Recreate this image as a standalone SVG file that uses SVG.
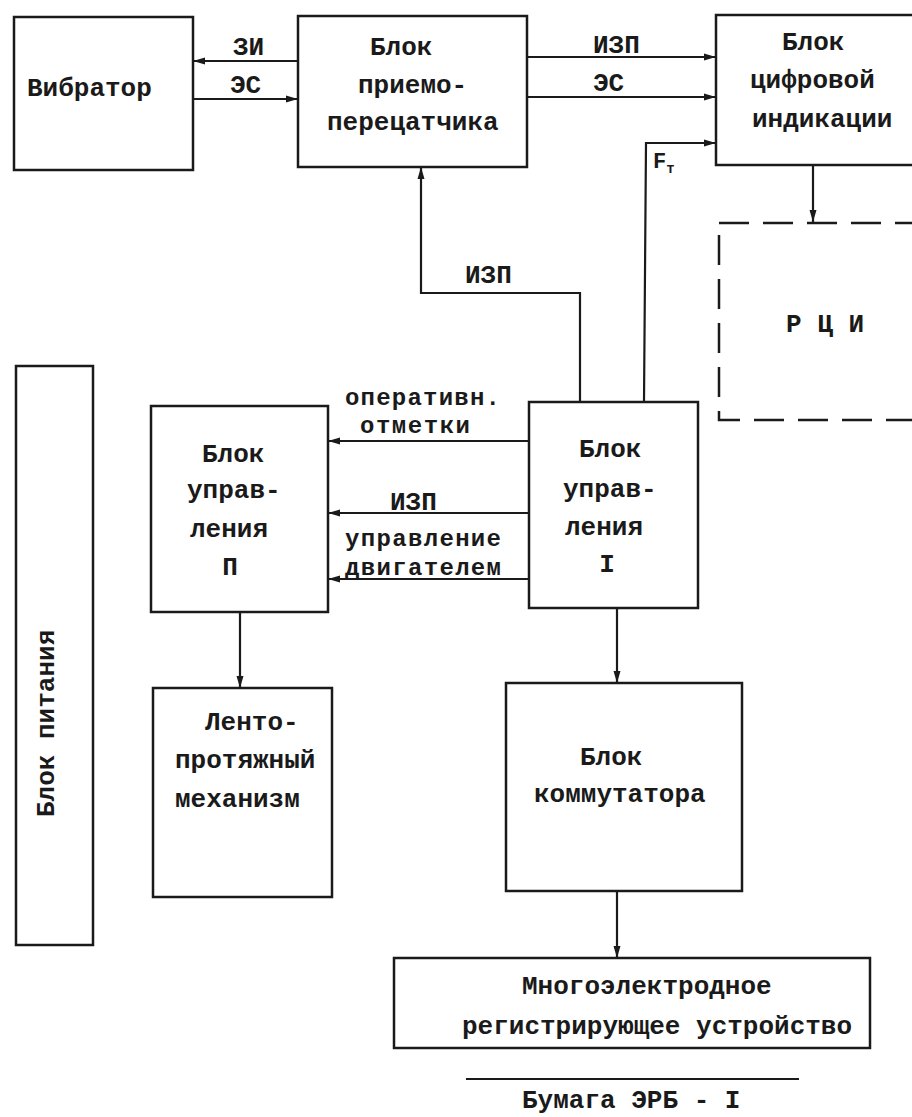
<svg xmlns="http://www.w3.org/2000/svg" width="912" height="1117" viewBox="0 0 912 1117">
<style>
.box{fill:none;stroke:#1a1a1a;stroke-width:2.5}
.dash{fill:none;stroke:#1a1a1a;stroke-width:2.5;stroke-dasharray:30 14}
.ln{fill:none;stroke:#1a1a1a;stroke-width:2.2;marker-end:url(#ah)}
.plain{fill:none;stroke:#1a1a1a;stroke-width:2.2}
text{font-family:"Liberation Mono","Courier New",monospace;font-size:26px;font-weight:bold;fill:#1a1a1a}
.sm{font-size:22px}
.lbl2{font-size:24px}
</style>
<defs>
<marker id="ah" viewBox="0 0 12 8" refX="12" refY="4" markerWidth="12" markerHeight="8" markerUnits="userSpaceOnUse" orient="auto">
<path d="M0,0.5 L12,4 L0,7.5 z" fill="#1a1a1a"/>
</marker>
</defs>
<rect width="912" height="1117" fill="#fff"/>

<g id="vibrator">
<rect class="box" x="14" y="17" width="179" height="153"/>
<text x="27" y="96">Вибратор</text>
</g>

<g id="transceiver">
<rect class="box" x="298" y="16" width="229" height="151"/>
<text x="370" y="55">Блок</text>
<text x="358" y="93">приемо-</text>
<text x="327" y="130">перецатчика</text>
</g>

<g id="digital">
<rect class="box" x="716" y="15" width="220" height="150"/>
<text x="782" y="50">Блок</text>
<text x="750" y="88">цифровой</text>
<text x="752" y="127">индикации</text>
</g>

<g id="rci">
<rect class="dash" x="719" y="223" width="220" height="197"/>
<text x="786" y="332">Р Ц И</text>
</g>

<g id="power">
<rect class="box" x="16" y="366" width="77" height="579"/>
<text transform="translate(54,817) rotate(-90)">Блок питания</text>
</g>

<g id="control2">
<rect class="box" x="151" y="406" width="177" height="206"/>
<text x="202" y="462">Блок</text>
<text x="187" y="498">управ-</text>
<text x="190" y="537">ления</text>
<text x="230" y="575" text-anchor="middle">П</text>
</g>

<g id="control1">
<rect class="box" x="529" y="402" width="169" height="206"/>
<text x="579" y="457">Блок</text>
<text x="563" y="497">управ-</text>
<text x="565" y="535">ления</text>
<text x="607" y="572" text-anchor="middle">I</text>
</g>

<g id="tape">
<rect class="box" x="153" y="688" width="179" height="209"/>
<text x="205" y="730">Ленто-</text>
<text x="175" y="768">протяжный</text>
<text x="175" y="807">механизм</text>
</g>

<g id="commutator">
<rect class="box" x="506" y="683" width="236" height="208"/>
<text x="580" y="765">Блок</text>
<text x="534" y="802">коммутатора</text>
</g>

<g id="recorder">
<rect class="box" x="394" y="958" width="476" height="90"/>
<text x="522" y="994">Многоэлектродное</text>
<text x="462" y="1034">регистрирующее устройство</text>
</g>

<g id="paper">
<line class="plain" x1="466" y1="1079" x2="799" y2="1079"/>
<text x="522" y="1108">Бумага  ЭРБ - I</text>
</g>

<g id="connectors">
<path class="ln" d="M298,61 L193,61"/>
<path class="ln" d="M193,99 L298,99"/>
<path class="ln" d="M527,57 L716,57"/>
<path class="ln" d="M527,97 L716,97"/>
<path class="ln" d="M644,402 L646,143 L716,143"/>
<path class="ln" d="M813,165 L813,222"/>
<path class="ln" d="M580,402 L580,293 L421,293 L421,167"/>
<path class="ln" d="M529,441 L328,441"/>
<path class="ln" d="M529,513 L328,513"/>
<path class="ln" d="M529,579 L328,579"/>
<path class="ln" d="M240,612 L240,688"/>
<path class="ln" d="M617,608 L617,683"/>
<path class="ln" d="M617,891 L617,958"/>
<text x="233" y="55">ЗИ</text>
<text x="230" y="93">ЭС</text>
<text x="593" y="53">ИЗП</text>
<text x="593" y="91">ЭС</text>
<text x="653" y="168" class="sm">F<tspan font-size="14" dy="5">т</tspan></text>
<text x="465" y="283">ИЗП</text>
<text x="345" y="405" class="lbl2" textLength="155">оперативн.</text>
<text x="360" y="433" class="lbl2" textLength="110">отметки</text>
<text x="390" y="510">ИЗП</text>
<text x="345" y="546" class="lbl2" textLength="156">управление</text>
<text x="345" y="575" class="lbl2" textLength="156">двигателем</text>
</g>
</svg>
